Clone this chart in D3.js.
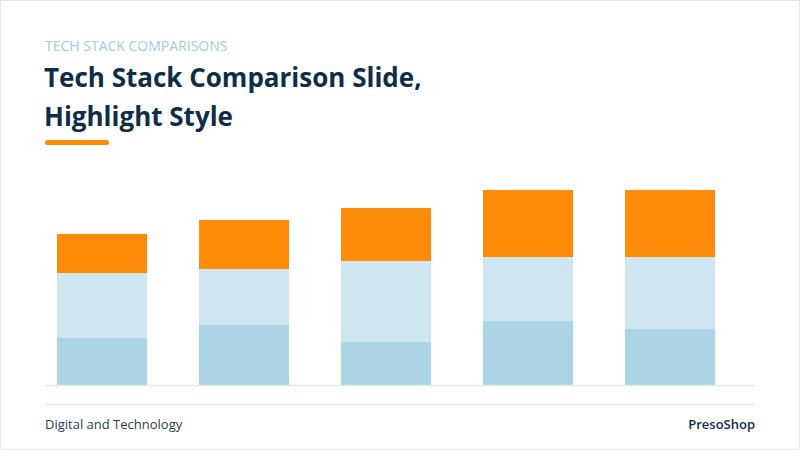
<!DOCTYPE html>
<html><head><meta charset="utf-8">
<script src="https://cdn.jsdelivr.net/npm/d3@7"></script>
<style>body{margin:0;background:#fff}svg{display:block}</style></head>
<body><svg id="c" width="800" height="450"></svg>
<script>
const categories = ["A","B","C","D","E"];
const base = [47,60,43,64,56];
const middle = [65,56,81,64,72];
const highlight = [39,49,53,67,67];
const series = [{key:"base",vals:base,color:"#abd4e5"},{key:"middle",vals:middle,color:"#cfe6f1"},{key:"highlight",vals:highlight,color:"#fb8b09"}];
const F = "'Open Sans', sans-serif";
const svg = d3.select("#c");
svg.append("rect").attr("x",0.5).attr("y",0.5).attr("width",799).attr("height",449).attr("fill","#fff").attr("stroke","#e6eaee");
svg.append("text").attr("x",45).attr("y",51).text("TECH STACK COMPARISONS")
  .attr("font-family",F).attr("font-size",14).attr("fill","#9fcde0");
svg.append("text").attr("x",44).attr("y",87).text("Tech Stack Comparison Slide,")
  .attr("font-family",F).attr("font-weight",700).attr("font-size",26).attr("fill","#0e2d47");
svg.append("text").attr("x",44).attr("y",126).text("Highlight Style")
  .attr("font-family",F).attr("font-weight",700).attr("font-size",26).attr("fill","#0e2d47");
svg.append("rect").attr("x",45).attr("y",140).attr("width",64).attr("height",5).attr("rx",2.5).attr("fill","#fb8b09");

const x = d3.scaleBand().domain(categories).range([57,715]).paddingInner(0.366).paddingOuter(0);
const y = d3.scaleLinear().domain([0,200]).range([385,185]);
const stacked = d3.stack().keys(series.map(s=>s.key))(categories.map((c,i)=>({c,base:base[i],middle:middle[i],highlight:highlight[i]})));
stacked.forEach((layer,li)=>{
  svg.append("g").selectAll("rect").data(layer).join("rect")
    .attr("x",(d,i)=>x(categories[i])).attr("width",x.bandwidth())
    .attr("y",d=>y(d[1])).attr("height",d=>y(d[0])-y(d[1])).attr("fill",series[li].color);
});
svg.append("line").attr("x1",45).attr("x2",755).attr("y1",385.5).attr("y2",385.5).attr("stroke","#e3e8ec").attr("stroke-width",1.5);
svg.append("line").attr("x1",45).attr("x2",755).attr("y1",404.5).attr("y2",404.5).attr("stroke","#e3e8ec").attr("stroke-width",1.5);
svg.append("text").attr("x",45).attr("y",429).text("Digital and Technology")
  .attr("font-family",F).attr("font-size",13).attr("fill","#2a3d4f");
svg.append("text").attr("x",755).attr("y",429).attr("text-anchor","end").text("PresoShop")
  .attr("font-family",F).attr("font-weight",600).attr("font-size",13).attr("fill","#0e2d47");
</script></body></html>
